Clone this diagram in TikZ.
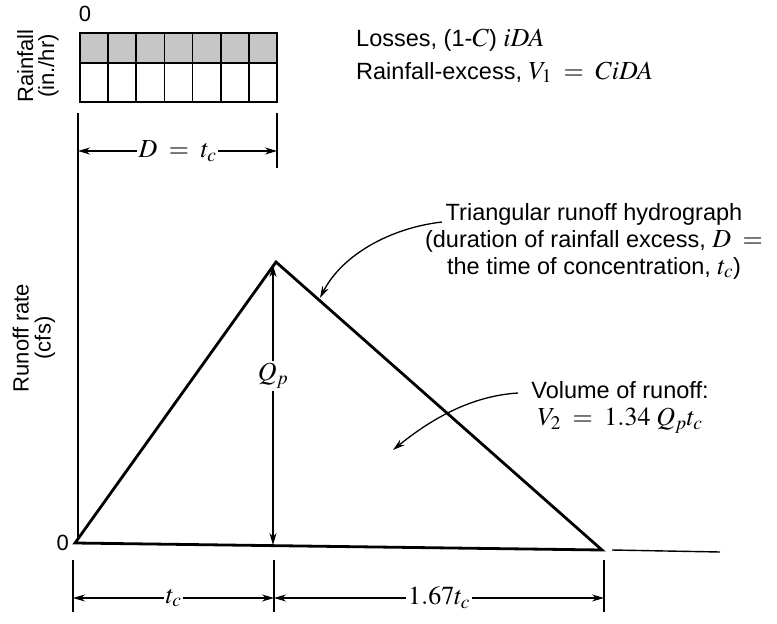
\documentclass[tikz,border=0pt]{standalone}
\usepackage{mathptmx}
\usepackage{fontspec}
\setmainfont{Liberation Sans}
\usetikzlibrary{arrows.meta}
\newcommand\mth[1]{{\fontsize{26}{28}\selectfont$#1$}}
\begin{document}
\begin{tikzpicture}[x=1pt,y=-1pt,
  font=\fontsize{23.5}{27}\selectfont,
  axisfont/.style={font=\fontsize{22}{22}\selectfont},
  thick line/.style={line width=2.8pt, line join=miter},
  axisline/.style={line width=1.8pt},
  dimline/.style={line width=1.1pt},
  dimarrow/.style={dimline, {Stealth[length=12pt,width=7pt]}-{Stealth[length=12pt,width=7pt]}},
  callout/.style={line width=1.3pt, -{Stealth[length=12pt,width=7pt]}},
  lbl/.style={inner sep=1pt},
  gap/.style={fill=white, inner sep=2pt}]
\useasboundingbox (0,0) rectangle (777,624);

% rainfall bar
\foreach \k in {0,...,6}{
  \fill[gray!45] ({80+\k*28.14},33) rectangle ({80+(\k+1)*28.14},63);
  \draw[line width=1.6pt] ({80+\k*28.14},33) rectangle ({80+(\k+1)*28.14},63);
  \draw[line width=1.6pt] ({80+\k*28.14},63) rectangle ({80+(\k+1)*28.14},102);
}
\draw[line width=2.2pt] (80,33) rectangle (277,102);
\node[lbl, axisfont] (zeroTop) at (85,14) {0};
\node[lbl, axisfont, rotate=90, align=center] (rainLbl) at (38,66) {Rainfall\\[-1pt](in./hr)};

\node[lbl, anchor=base west] (losses) at (355,46) {Losses, (1-\mth{C}) \mth{iDA}};
\node[lbl, anchor=base west] (excess) at (355,79) {Rainfall-excess, \mth{V_1\;=\;CiDA}};

% axes and ticks
\coordinate (axTop) at (78,113);
\coordinate (axBot) at (78,538);
\draw[axisline] (axTop) -- (axBot);
\coordinate (tickRtop) at (277,113);
\coordinate (tickRbot) at (277,168);
\draw[axisline] (tickRtop) -- (tickRbot);
\coordinate (dL) at (78,151);
\coordinate (dR) at (277,151);
\draw[dimarrow] (dL) -- (dR) node[midway, gap] (dlab) {\mth{D\;=\;t_c}};

\node[lbl, axisfont, rotate=90, align=center] (runLbl) at (34,338) {Runoff rate\\[0pt](cfs)};

% triangle
\coordinate (O) at (75,543);
\coordinate (P) at (276,262);
\coordinate (E) at (602,550);
\draw[thick line] (O) -- (P) -- (E) -- cycle;
\node[lbl, axisfont, anchor=east] (zeroO) at (70,543) {0};
\coordinate (extA) at (612,550);
\coordinate (extB) at (720,552);
\draw[line width=1.4pt] (extA) -- (extB);

% Qp
\coordinate (qTop) at (273,265);
\coordinate (qBot) at (273,545);
\draw[dimarrow] (qTop) -- (qBot);
\node[gap] (qlab) at (273,376) {\mth{Q_p}};

% bottom dimensions
\coordinate (t1a) at (73,560); \coordinate (t1b) at (73,612);
\coordinate (t2a) at (274,560); \coordinate (t2b) at (274,612);
\coordinate (t3a) at (604,560); \coordinate (t3b) at (604,612);
\draw[axisline] (t1a) -- (t1b);
\draw[axisline] (t2a) -- (t2b);
\draw[axisline] (t3a) -- (t3b);
\coordinate (b1) at (73,598); \coordinate (b2) at (274,598); \coordinate (b3) at (604,598);
\draw[dimarrow] (b1) -- (b2) node[midway, gap] (tclab) {\mth{t_c}};
\draw[dimarrow] (b2) -- (b3) node[midway, gap] (t167lab) {\mth{1.67t_c}};

% callouts
\node[lbl, align=center] (triLbl) at (594,241) {Triangular runoff hydrograph\\(duration of rainfall excess, \mth{D\;=}\\the time of concentration, \mth{t_c})};
\coordinate (triStart) at (442,222);
\coordinate (triTip) at (320,298);
\draw[callout] (triStart) .. controls (390,228) and (342,255) .. (triTip);

\node[lbl, align=center] (volLbl) at (620,407) {Volume of runoff:\\\mth{V_2\;=\;1.34\;Q_pt_c}};
\coordinate (volStart) at (518,393);
\coordinate (volTip) at (393,450);
\draw[callout] (volStart) .. controls (470,396) and (430,420) .. (volTip);
\end{tikzpicture}
\end{document}
